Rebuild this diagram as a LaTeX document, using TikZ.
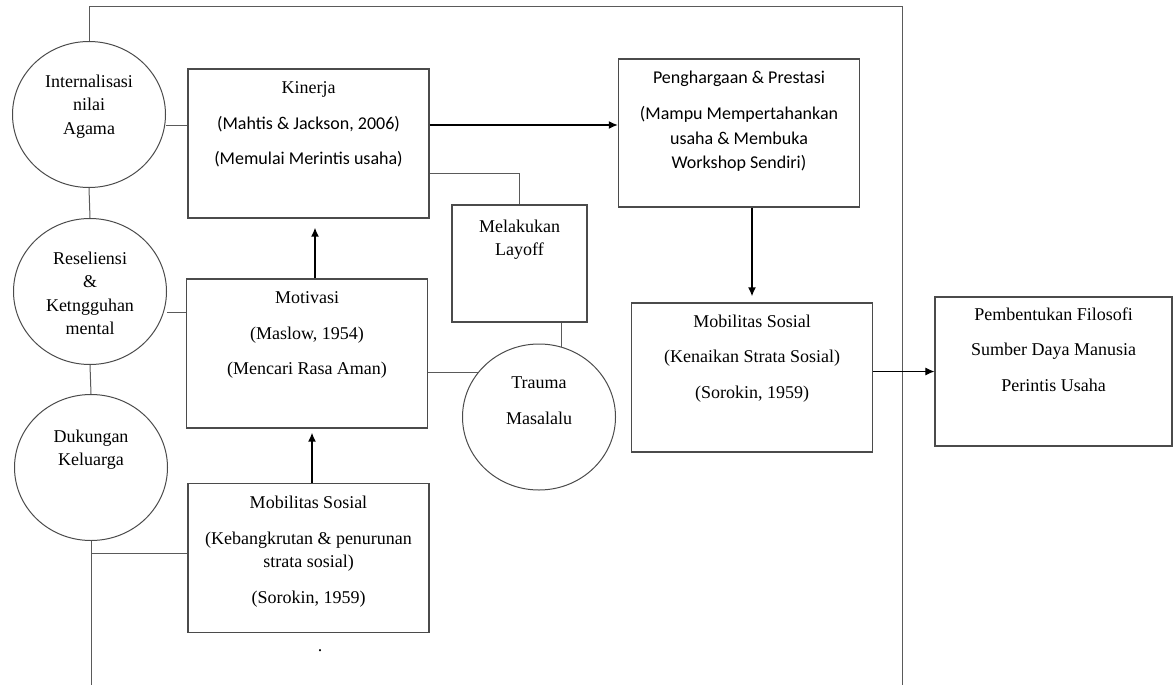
\documentclass[tikz,border=0pt]{standalone}
\usepackage{fontspec}
\setmainfont{Liberation Serif}
\newfontfamily\calibri{Carlito}
\usetikzlibrary{arrows.meta,shapes.geometric}
\definecolor{lineGray}{RGB}{90,90,90}
\definecolor{boxGray}{RGB}{75,75,75}
\tikzset{
	box/.style={draw=boxGray, line width=1.2pt, rectangle, minimum width=241pt, minimum height=149pt, inner sep=0pt},
	circ/.style={draw=boxGray, line width=1pt, ellipse, minimum width=153pt, minimum height=146pt, inner sep=0pt},
	txt/.style={anchor=north, align=center, inner sep=0pt, font=\fontsize{18}{23.5}\selectfont},
	sans/.style={txt, font=\fontsize{18}{24.5}\selectfont\calibri},
	link/.style={draw=lineGray, line width=1pt},
	flow/.style={draw=black, line width=1.6pt, -{Latex[length=9pt,width=8pt]}}
}

\begin{document}
\begin{tikzpicture}[x=1pt, y=-1pt]
		\useasboundingbox (0,0) rectangle (1174,685);
		
		\node[circ] (agama) at (89,114.5) {};
		\node[circ] (reseliensi) at (90,291.5) {};
		\node[circ] (dukungan) at (91,467.5) {};
		\node[circ] (trauma) at (539,417) {};
		
		\node[box] (kinerja) at (308.5,143.5) {};
		\node[box] (motivasi) at (307,353.5) {};
		\node[box] (mobTurun) at (308.5,558) {};
		\node[box, minimum width=135pt, minimum height=117pt] (layoff) at (519.5,263.5) {};
		\node[box, minimum height=148pt] (penghargaan) at (739,133) {};
		\node[box] (mobNaik) at (752,377.5) {};
		\node[box, minimum width=237pt] (pembentukan) at (1053.5,371.5) {};
		
		\node[txt] (agamaTxt) at ([yshift=40pt]agama.center) {Internalisasi\\nilai\\Agama};
		\node[txt] (reseliensiTxt) at ([yshift=40pt]reseliensi.center) {Reseliensi\\\&\\Ketngguhan\\mental};
		\node[txt] (dukunganTxt) at ([yshift=38pt]dukungan.center) {Dukungan\\Keluarga};
		\node[txt] (traumaTxt) at ([yshift=40pt]trauma.center) {Trauma\\[12pt]Masalalu};
		
		\node[txt] (kinerjaTxt) at ([yshift=-13pt]kinerja.north) {Kinerja\\[12pt]{\calibri (Mahtis \& Jackson, 2006)}\\[12pt]{\calibri (Memulai Merintis usaha)}};
		\node[txt] (motivasiTxt) at ([yshift=-13pt]motivasi.north) {Motivasi\\[12pt](Maslow, 1954)\\[12pt](Mencari Rasa Aman)};
		\node[txt] (mobTurunTxt) at ([yshift=-13pt]mobTurun.north) {Mobilitas Sosial\\[12pt](Kebangkrutan \& penurunan\\strata sosial)\\[12pt](Sorokin, 1959)};
		\node[txt] (dotTxt) at (320,649) {.};
		\node[txt] (layoffTxt) at ([yshift=-15pt]layoff.north) {Melakukan\\Layoff};
		\node[sans] (penghargaanTxt) at ([yshift=-12pt]penghargaan.north) {Penghargaan \& Prestasi\\[12pt](Mampu Mempertahankan\\usaha \& Membuka\\Workshop Sendiri)};
		\node[txt] (mobNaikTxt) at ([yshift=-12pt]mobNaik.north) {Mobilitas Sosial\\[12pt](Kenaikan Strata Sosial)\\[12pt](Sorokin, 1959)};
		\node[txt] (pembentukanTxt) at ([yshift=-11pt]pembentukan.north) {Pembentukan Filosofi\\[12pt]Sumber Daya Manusia\\[12pt]Perintis Usaha};
		
		% frame round the left part
		\draw[link] (agama.north) |- (902,7) -- (902,685);
		\draw[link] (agama.south) -- (reseliensi.north);
		\draw[link] (reseliensi.south) -- (dukungan.north);
		\draw[link] (dukungan.south) -- (dukungan.south |- 0,685);
		\draw[link] (dukungan.south |- 0,553) -- ([yshift=5pt]mobTurun.west);
		
		\draw[link] (agama.east |- 0,125) -- (kinerja.west |- 0,125);
		\draw[link] (reseliensi.east |- 0,312) -- (motivasi.west |- 0,312);
		\draw[link] (kinerja.east |- 0,173) -| (layoff.north);
		\draw[link] (layoff.south -| trauma.72) -- (trauma.72);
		\draw[link] (motivasi.east |- trauma.144) -- (trauma.144);
		
		\draw[flow] (kinerja.east |- 0,125) -- (penghargaan.west |- 0,125);
		\draw[flow, shorten >=9pt] (motivasi.north -| 315,0) -- (kinerja.south -| 315,0);
		\draw[flow, shorten >=4pt] (mobTurun.north -| 312,0) -- (motivasi.south -| 312,0);
		\draw[flow, shorten >=6pt] (penghargaan.south -| mobNaik.north) -- (mobNaik.north);
		\draw[flow, line width=1pt] (mobNaik.east |- pembentukan.west) -- (pembentukan.west);
	\end{tikzpicture}
\end{document}
